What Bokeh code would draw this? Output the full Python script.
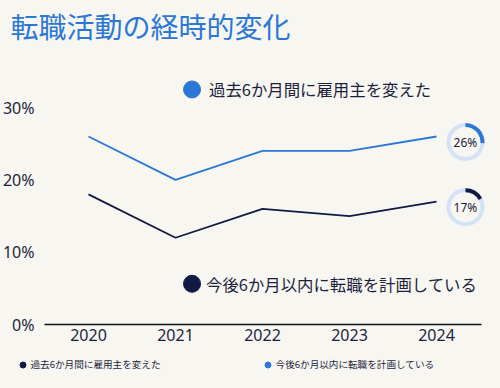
import math
from bokeh.plotting import figure
from bokeh.models import Range1d, FixedTicker, Legend, LegendItem, ColumnDataSource, GlobalInlineStyleSheet
from bokeh.core.properties import value
from bokeh.embed import file_html
from bokeh.resources import INLINE

# ---- data ----
years = [2020, 2021, 2022, 2023, 2024]
changed_employer = [26, 20, 24, 24, 26]      # 過去6か月間に雇用主を変えた (blue line)
planning_change = [18, 12, 16, 15, 17]       # 今後6か月以内に転職を計画している (navy line)
y_ticks = [0, 10, 20, 30]
y_tick_labels = ["0%", "10%", "20%", "30%"]
x_tick_labels = ["2020", "2021", "2022", "2023", "2024"]
title_text = "転職活動の経時的変化"
label_changed = "過去6か月間に雇用主を変えた"
label_planning = "今後6か月以内に転職を計画している"

BG = "#f7f6f1"
BLUE = "#2a77d6"
NAVY = "#111a45"
RING = "#d3e2f6"
TXT = "#1c1f3c"
CJK = "Noto Sans CJK JP"

X0, X1 = 2018.9885, 2024.7356
AXIS_X0, AXIS_X1 = 2019.4943, 2024.517

p = figure(width=500, height=388, output_backend="svg", toolbar_location=None,
           x_range=Range1d(X0, X1), y_range=Range1d(-8.85, 38.17),
           min_border_left=0, min_border_right=0, min_border_top=48, min_border_bottom=0)
p.background_fill_color = BG
p.border_fill_color = BG
p.outline_line_color = None
p.grid.visible = False
p.stylesheets = [GlobalInlineStyleSheet(css="body{background:%s;}" % BG)]

p.title.text = title_text
p.title.text_font = CJK
p.title.text_font_size = "28px"
p.title.text_font_style = "normal"
p.title.text_color = BLUE
p.title.align = "left"
p.title.vertical_align = "middle"
p.title.offset = 10
p.title.standoff = 3

# axes
p.yaxis.fixed_location = AXIS_X0
p.yaxis.ticker = FixedTicker(ticks=y_ticks)
p.yaxis.major_label_overrides = dict(zip(y_ticks, y_tick_labels))
p.yaxis.axis_line_color = None
p.yaxis.major_tick_line_color = None
p.yaxis.minor_tick_line_color = None
p.yaxis.major_label_standoff = 4
p.yaxis.major_label_text_font = "Noto Sans"
p.yaxis.major_label_text_font_size = "16px"
p.yaxis.major_label_text_color = TXT

p.xaxis.fixed_location = 0
p.xaxis.bounds = (AXIS_X0, AXIS_X1)
p.xaxis.ticker = FixedTicker(ticks=years)
p.xaxis.major_label_overrides = dict(zip(years, x_tick_labels))
p.xaxis.axis_line_color = "#111111"
p.xaxis.axis_line_width = 1.5
p.xaxis.major_tick_line_color = None
p.xaxis.minor_tick_line_color = None
p.xaxis.major_label_standoff = -2
p.xaxis.major_label_text_font = "Noto Sans"
p.xaxis.major_label_text_font_size = "16px"
p.xaxis.major_label_text_color = TXT

# lines
p.line(years, changed_employer, line_color=BLUE, line_width=1.8)
p.line(years, planning_change, line_color=NAVY, line_width=1.8)

# in-plot annotations
ann_x = 2021.19
p.scatter([ann_x], [32.5], size=17, color=BLUE)
p.text([ann_x], [32.5], text=[label_changed], x_offset=17, text_baseline="middle",
       text_font=value(CJK), text_font_size="16.4px", text_color=TXT)
p.scatter([ann_x], [5.63], size=17, color=NAVY)
p.text([ann_x], [5.63], text=[label_planning], x_offset=14, text_baseline="middle",
       text_font=value(CJK), text_font_size="16.4px", text_color=TXT)

# donuts with last value
dx = years[-1] + 0.333
last_vals = [changed_employer[-1], planning_change[-1]]
donut_y = [v - 0.77 for v in last_vals]
arc_colors = [BLUE, NAVY]
p.annulus(x=[dx, dx], y=donut_y, inner_radius=15, outer_radius=19,
          inner_radius_units="screen", outer_radius_units="screen",
          fill_color=RING, line_color=None)
src = ColumnDataSource(dict(
    x=[dx, dx], y=donut_y,
    start=[math.pi / 2] * 2,
    end=[math.pi / 2 - v / 100 * 2 * math.pi for v in last_vals],
    color=arc_colors,
    label=["%d%%" % v for v in last_vals],
))
p.annular_wedge(x="x", y="y", inner_radius=15, outer_radius=19,
                inner_radius_units="screen", outer_radius_units="screen",
                start_angle="start", end_angle="end", direction="clock",
                fill_color="color", line_color=None, source=src)
p.text(x="x", y="y", text="label", text_align="center", text_baseline="middle",
       text_font=value("Noto Sans"), text_font_size="12px", text_color=TXT, source=src)

# bottom legend (dots)
nan = float("nan")
r1 = p.scatter([nan], [nan], size=6, color=NAVY)
r2 = p.scatter([nan], [nan], size=6, color=BLUE)
legend = Legend(items=[LegendItem(label=label_changed, renderers=[r1]),
                       LegendItem(label=label_planning, renderers=[r2])],
                orientation="horizontal", location=(14.5, 16.5),
                glyph_width=15, glyph_height=15, label_height=15,
                label_standoff=1, spacing=99, padding=0, margin=0,
                label_text_font=CJK, label_text_font_size="9.6px",
                label_text_color=TXT,
                background_fill_alpha=0, border_line_color=None)
p.add_layout(legend, "center")

open("out.html", "w").write(file_html(p, INLINE))
